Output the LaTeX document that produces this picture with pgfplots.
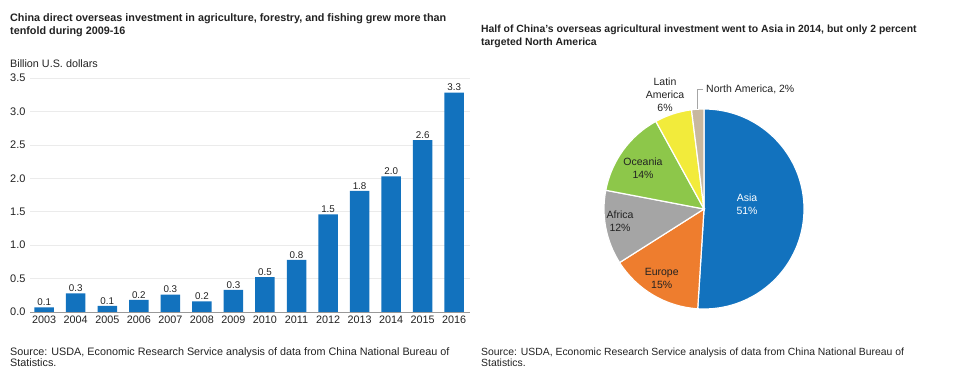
\documentclass[border=0pt]{standalone}
\usepackage{fontspec}
\setmainfont{Liberation Sans}
\usepackage{pgfplots}
\pgfplotsset{compat=1.18}
\definecolor{barblue}{HTML}{1272BE}
\definecolor{asia}{HTML}{1272BE}
\definecolor{europe}{HTML}{EE7D2E}
\definecolor{africa}{HTML}{A5A5A5}
\definecolor{oceania}{HTML}{8DC74A}
\definecolor{latam}{HTML}{F2EB3B}
\definecolor{namer}{HTML}{C8B89F}
\definecolor{txt}{HTML}{222222}
\newcommand\slice[3]{%
  \fill[#3, draw=white, line width=1.2pt] (axis cs:0,0) -- (axis cs:{cos(90-3.6*#1)},{sin(90-3.6*#1)})
    arc[start angle={90-3.6*(#1)}, end angle={90-3.6*(#1+#2)}, radius=100pt] -- cycle;}
\begin{document}
\begin{tikzpicture}
\useasboundingbox (0pt,0pt) rectangle (979pt,386pt);
% titles
\node[anchor=north west, align=left, inner sep=0, text=txt,
      font=\bfseries\fontsize{10.8}{13.4}\selectfont] at (10pt,372.7pt)
  {China direct overseas investment in agriculture, forestry, and fishing grew more than\\tenfold during 2009-16};
\node[anchor=north west, align=left, inner sep=0, text=txt,
      font=\bfseries\fontsize{10.4}{13.4}\selectfont] at (481pt,361.7pt)
  {Half of China's overseas agricultural investment went to Asia in 2014, but only 2 percent\\targeted North America};
\node[anchor=west, inner sep=0, text=txt, font=\fontsize{10.8}{12}\selectfont] at (10pt,322pt) {Billion U.S. dollars};
% sources
\node[anchor=north west, align=left, inner sep=0, text=txt,
      font=\fontsize{10.8}{11.5}\selectfont] at (10pt,38.7pt)
  {Source: USDA, Economic Research Service analysis of data from China National Bureau of\\Statistics.};
\node[anchor=north west, align=left, inner sep=0, text=txt,
      font=\fontsize{10.4}{11.5}\selectfont] at (481pt,38.3pt)
  {Source: USDA, Economic Research Service analysis of data from China National Bureau of\\Statistics.};
% bar chart
\begin{axis}[at={(30pt,74pt)}, anchor=south west, scale only axis,
  width=440pt, height=234pt,
  xmin=-0.45, xmax=13.5, ymin=0, ymax=3.5,
  ytick={0,0.5,1,1.5,2,2.5,3,3.5},
  xtick={0,...,13},
  xticklabels={2003,2004,2005,2006,2007,2008,2009,2010,2011,2012,2013,2014,2015,2016},
  axis line style={draw=none},
  ymajorgrids, grid style={color=black!8, line width=0.6pt},
  major tick length=0pt,
  tick style={draw=none},
  /pgf/number format/assume math mode=true,
  yticklabel={\pgfmathprintnumber[fixed,fixed zerofill,precision=1]{\tick}},
  yticklabel style={anchor=west, inner sep=0pt, xshift=-20pt, font=\fontsize{11}{12}\selectfont, text=txt},
  xticklabel style={font=\fontsize{10.8}{12}\selectfont, text=txt, inner sep=4pt},
  clip=false]
\addplot[ybar, bar width=19.5pt, fill=barblue, draw=none,
  nodes near coords,
  nodes near coords style={font=\fontsize{9.8}{11}\selectfont, text=txt, inner sep=1.5pt,
    /pgf/number format/.cd, fixed, fixed zerofill, precision=1, assume math mode=true}]
  coordinates {(0,0.07) (1,0.28) (2,0.09) (3,0.18) (4,0.26) (5,0.16) (6,0.33) (7,0.52)
               (8,0.78) (9,1.46) (10,1.81) (11,2.03) (12,2.57) (13,3.28)};
\draw[color=gray!80, line width=0.8pt] (rel axis cs:0,0) -- (rel axis cs:1,0);
\end{axis}
% pie chart
\begin{axis}[at={(704pt,177pt)}, anchor=center, scale only axis,
  width=200pt, height=200pt, xmin=-1, xmax=1, ymin=-1, ymax=1,
  hide axis, clip=false]
\slice{0}{51}{asia}
\slice{51}{15}{europe}
\slice{66}{12}{africa}
\slice{78}{14}{oceania}
\slice{92}{6}{latam}
\slice{98}{2}{namer}
\node[text=white, align=center, font=\fontsize{10.5}{12.8}\selectfont] at (axis cs:0.43,0.045) {Asia\\51\%};
\node[text=txt, align=center, font=\fontsize{10.5}{12.8}\selectfont] at (axis cs:-0.423,-0.697) {Europe\\15\%};
\node[text=txt, align=center, font=\fontsize{10.5}{12.8}\selectfont] at (axis cs:-0.84,-0.123) {Africa\\12\%};
\node[text=txt, align=center, font=\fontsize{10.5}{12.8}\selectfont] at (axis cs:-0.61,0.407) {Oceania\\14\%};
\node[text=txt, align=center, font=\fontsize{10.5}{12.8}\selectfont] at (axis cs:-0.39,1.145) {Latin\\America\\6\%};
\draw[gray!70, line width=0.7pt] (axis cs:-0.063,1.0) -- (axis cs:-0.063,1.197) -- (axis cs:-0.01,1.197);
\node[text=txt, anchor=west, inner sep=0pt, font=\fontsize{10.5}{12.8}\selectfont] at (axis cs:0.02,1.197) {North America, 2\%};
\end{axis}
\end{tikzpicture}
\end{document}
